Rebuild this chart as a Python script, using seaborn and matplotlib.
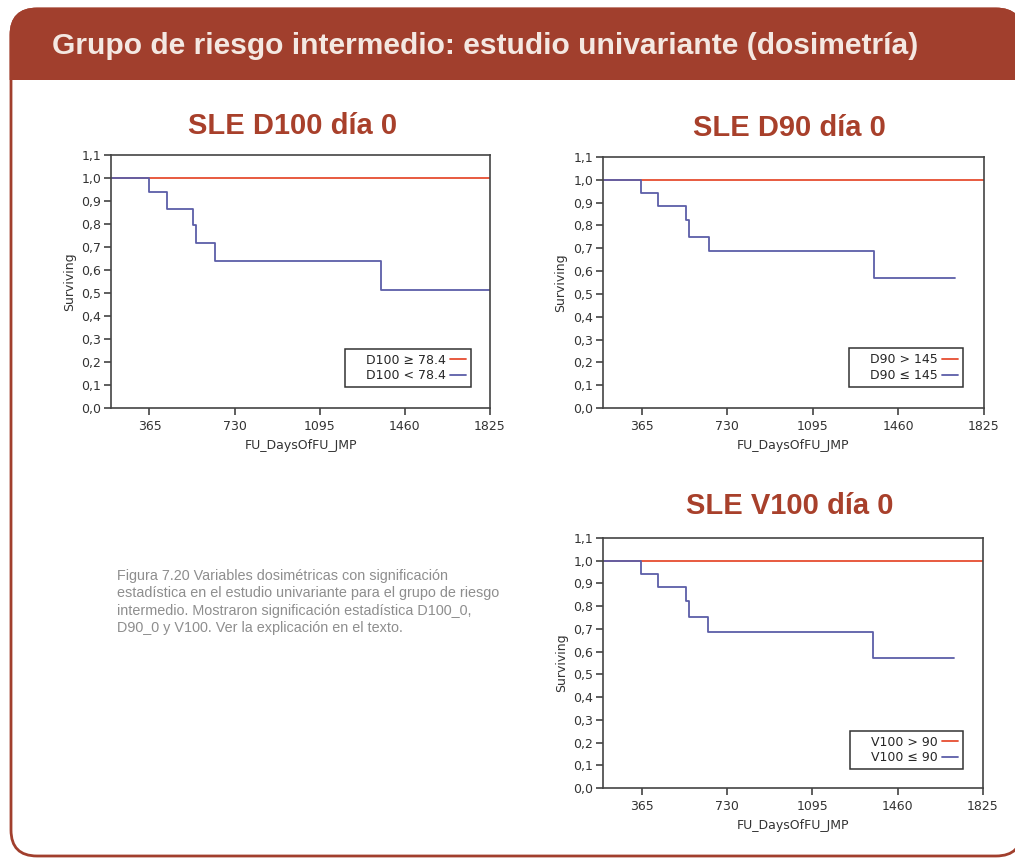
import numpy as np
import pandas as pd
import seaborn as sns
import matplotlib.pyplot as plt
from matplotlib.patches import FancyBboxPatch, Rectangle

# Kaplan-Meier steps (days, surviving fraction)
d100_days = [0, 362, 438, 552, 565, 647, 1356, 1825]
d100_surv = [1.0, 0.9375, 0.867, 0.795, 0.717, 0.637, 0.512, 0.512]

d90_days = [0, 362, 436, 553, 567, 651, 1354, 1703]
d90_surv = [1.0, 0.943, 0.886, 0.822, 0.751, 0.686, 0.571, 0.571]

v100_days = [0, 362, 436, 553, 567, 651, 1354, 1703]
v100_surv = [1.0, 0.943, 0.886, 0.822, 0.751, 0.686, 0.571, 0.571]

# the favourable group never has an event
ref_days = [0, 1825]
ref_surv = [1.0, 1.0]

titles = ["SLE D100 día 0", "SLE D90 día 0", "SLE V100 día 0"]
labels_hi = ["D100 ≥ 78.4", "D90 > 145", "V100 > 90"]
labels_lo = ["D100 < 78.4", "D90 ≤ 145", "V100 ≤ 90"]

x_ticks = [365, 730, 1095, 1460, 1825]
y_ticks = [0.0, 0.1, 0.2, 0.3, 0.4, 0.5, 0.6, 0.7, 0.8, 0.9, 1.0, 1.1]
y_tick_labels = ["0,0", "0,1", "0,2", "0,3", "0,4", "0,5",
                 "0,6", "0,7", "0,8", "0,9", "1,0", "1,1"]

header = "Grupo de riesgo intermedio: estudio univariante (dosimetría)"
caption = ("Figura 7.20 Variables dosimétricas con significación\n"
           "estadística en el estudio univariante para el grupo de riesgo\n"
           "intermedio. Mostraron significación estadística D100_0,\n"
           "D90_0 y V100. Ver la explicación en el texto.")

RED = "#e64d30"
BLUE = "#5c5ea8"
BRICK = "#a13f2d"
TITLE_RED = "#a8402b"

W, H = 1015, 858

sns.set_style("ticks")
plt.rcParams["font.family"] = ["DejaVu Sans"]

fig = plt.figure(figsize=(W / 100, H / 100), dpi=100)

# background panel drawn in pixel coordinates
bg = fig.add_axes([0, 0, 1, 1], zorder=0)
bg.set_xlim(0, W)
bg.set_ylim(H, 0)
bg.axis("off")

frame = FancyBboxPatch((11, 9), 1022 - 11, 856 - 9,
                       boxstyle="round,pad=0,rounding_size=26",
                       fc="white", ec=BRICK, lw=2)
bg.add_patch(frame)
banner = FancyBboxPatch((11, 9), 1022 - 11, 150,
                        boxstyle="round,pad=0,rounding_size=26",
                        fc=BRICK, ec=BRICK, lw=2)
bg.add_patch(banner)
banner.set_clip_path(Rectangle((0, 0), W, 80, transform=bg.transData))

bg.text(52, 46, header, color="#f4e8e2", fontsize=21.6, fontweight="bold",
        family="Liberation Sans", va="center", ha="left")
bg.text(117, 569, caption, color="#8e8e8e", fontsize=10.4,
        family="Liberation Sans", va="top", ha="left", linespacing=1.3)

title_pos = [(293, 126), (789, 128), (790, 506)]
for (tx, ty), t in zip(title_pos, titles):
    bg.text(tx, ty, t, color=TITLE_RED, fontsize=21, fontweight="bold",
            family="Liberation Sans", ha="center", va="center")

# axes boxes in pixels: left, top, right, bottom
boxes = [(111, 155, 490, 408), (603, 157, 984, 408), (603, 538, 983, 788)]
legend_anchor = [(0.95, 0.083), (0.945, 0.084), (0.947, 0.076)]
curves = [(d100_days, d100_surv), (d90_days, d90_surv), (v100_days, v100_surv)]

for i, (l, t, r, b) in enumerate(boxes):
    ax = fig.add_axes([l / W, 1 - b / H, (r - l) / W, (b - t) / H], zorder=2)
    days, surv = curves[i]
    hi = pd.DataFrame({"days": ref_days, "surv": ref_surv, "grupo": labels_hi[i]})
    lo = pd.DataFrame({"days": days, "surv": surv, "grupo": labels_lo[i]})
    df = pd.concat([hi, lo], ignore_index=True)

    sns.lineplot(data=df, x="days", y="surv", hue="grupo",
                 hue_order=[labels_hi[i], labels_lo[i]],
                 palette=[RED, BLUE], estimator=None, sort=False,
                 drawstyle="steps-post", lw=1.3, ax=ax)

    ax.set_xlim(200, 1825)
    ax.set_ylim(0, 1.1)
    ax.set_xticks(x_ticks)
    ax.set_yticks(y_ticks)
    ax.set_yticklabels(y_tick_labels)
    ax.tick_params(direction="out", length=5, width=1.1, labelsize=9,
                   colors="#333333")
    ax.tick_params(axis="y", pad=2)
    ax.tick_params(axis="x", pad=4)
    for s in ax.spines.values():
        s.set_visible(True)
        s.set_linewidth(1.2)
        s.set_color("#444444")

    ax.set_xlabel("FU_DaysOfFU_JMP", fontsize=9, color="#333333")
    ax.set_ylabel("Surviving", fontsize=9, color="#333333")
    ax.xaxis.set_label_coords(0.5, -0.122)
    ax.yaxis.set_label_coords(-0.093, 0.5)

    sns.move_legend(ax, "lower right", bbox_to_anchor=legend_anchor[i],
                    title=None, frameon=True, fancybox=False,
                    markerfirst=False, fontsize=9, handlelength=1.3,
                    handletextpad=0.3, labelspacing=0.2, borderpad=0.4,
                    borderaxespad=0, edgecolor="#333333", framealpha=1)
    leg = ax.get_legend()
    leg.get_frame().set_linewidth(1.1)
    # the JMP legend leaves extra room left of the labels
    for txt in leg.get_texts():
        txt.set_text("    " + txt.get_text())

fig.savefig("out.png", dpi=100)
